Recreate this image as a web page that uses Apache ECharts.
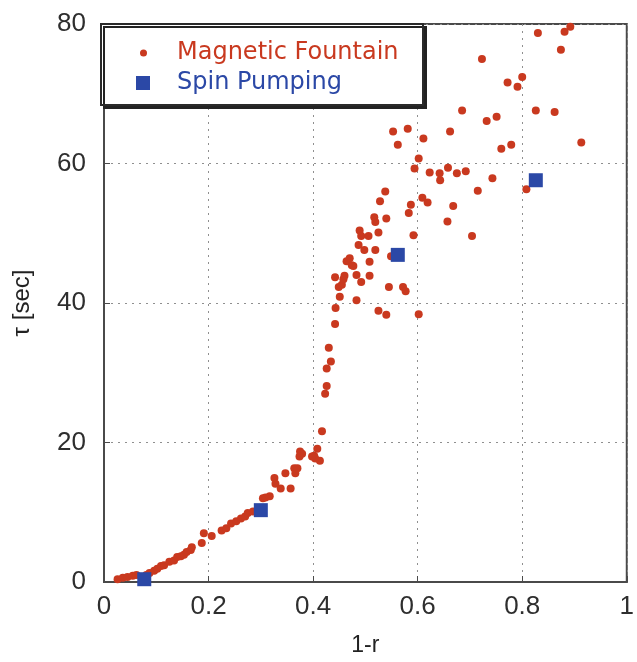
<!DOCTYPE html>
<html>
<head>
<meta charset="utf-8">
<script src="https://cdn.jsdelivr.net/npm/echarts@6/dist/echarts.min.js"></script>
<style>
  html, body { margin: 0; padding: 0; background: #ffffff; }
  #main { width: 637px; height: 662px; }
</style>
</head>
<body>
<div id="main"></div>
<script>
// 磁気噴水 (Magnetic Fountain) の測定点
var fountainX = [
  0.026, 0.036, 0.045, 0.055, 0.062, 0.081, 0.087, 0.096, 0.102, 0.109,
  0.115, 0.125, 0.134, 0.140, 0.147, 0.153, 0.158, 0.166, 0.168, 0.187,
  0.191, 0.206, 0.225, 0.234, 0.243, 0.253, 0.262, 0.270, 0.275, 0.285,
  0.304, 0.309, 0.317, 0.326, 0.328, 0.338, 0.357, 0.347, 0.364, 0.366,
  0.370, 0.375, 0.379, 0.374, 0.402, 0.408, 0.413, 0.404, 0.398, 0.417,
  0.423, 0.426, 0.426, 0.434, 0.430, 0.442, 0.443, 0.451, 0.449, 0.455,
  0.458, 0.460, 0.442, 0.483, 0.492, 0.508, 0.483, 0.464, 0.470, 0.474,
  0.477, 0.508, 0.487, 0.498, 0.519, 0.489, 0.525, 0.492, 0.506, 0.592,
  0.517, 0.519, 0.540, 0.538, 0.528, 0.587, 0.583, 0.609, 0.549, 0.545,
  0.572, 0.577, 0.525, 0.540, 0.602,
  0.830, 0.881, 0.892, 0.874, 0.723, 0.772, 0.791, 0.800, 0.685, 0.826,
  0.862, 0.732, 0.751, 0.662, 0.913, 0.553, 0.581, 0.562, 0.611, 0.760,
  0.779, 0.602, 0.594, 0.623, 0.642, 0.643, 0.658, 0.675, 0.692, 0.743,
  0.715, 0.808, 0.619, 0.668, 0.657, 0.704
];
var fountainY = [
  0.4, 0.6, 0.7, 0.9, 1.0, 1.0, 1.3, 1.6, 1.9, 2.3,
  2.4, 2.9, 3.1, 3.6, 3.7, 3.9, 4.3, 4.6, 5.0, 5.6,
  7.0, 6.6, 7.4, 7.7, 8.4, 8.7, 9.1, 9.4, 9.9, 10.1,
  12.0, 12.1, 12.3, 14.9, 14.1, 13.4, 13.4, 15.6, 16.3, 15.6,
  16.3, 18.7, 18.4, 18.0, 18.1, 19.1, 17.4, 17.7, 18.0, 21.6,
  27.0, 28.1, 30.6, 31.6, 33.6, 37.0, 39.3, 40.9, 42.3, 42.6,
  43.4, 43.9, 43.7, 44.0, 43.0, 43.9, 40.4, 46.0, 46.4, 45.4,
  45.3, 45.9, 48.3, 47.6, 47.6, 50.4, 50.1, 49.6, 49.6, 49.7,
  52.3, 51.6, 52.1, 56.0, 54.6, 54.1, 52.9, 55.1, 46.7, 42.3,
  42.3, 41.7, 38.9, 38.3, 38.4,
  78.7, 78.9, 79.6, 76.3, 75.0, 71.6, 71.0, 72.4, 67.6, 67.6,
  67.4, 66.1, 66.7, 64.6, 63.0, 64.6, 65.0, 62.7, 63.6, 62.1,
  62.7, 60.7, 59.3, 58.7, 58.6, 57.6, 59.4, 58.6, 58.9, 57.9,
  56.1, 56.3, 54.4, 53.9, 51.7, 49.6
];

// スピンポンピング (Spin Pumping)
var pumpX = [0.077, 0.300, 0.562, 0.826];
var pumpY = [0.4, 10.3, 46.9, 57.6];

var xTicks = [0, 0.2, 0.4, 0.6, 0.8, 1];
var yTicks = [0, 20, 40, 60, 80];

var seriesNames = ['Magnetic Fountain', 'Spin Pumping'];

function zip(xs, ys) {
  var out = [];
  for (var i = 0; i < xs.length; i++) out.push([xs[i], ys[i]]);
  return out;
}

var red = '#c9391f';
var blue = '#2b48a6';
var tickFont = { fontFamily: 'Liberation Sans, Arial', fontSize: 26, color: '#2e2e2e' };

var chart = echarts.init(document.getElementById('main'), null, { renderer: 'canvas' });

var option = {
  backgroundColor: '#ffffff',
  animation: false,
  grid: {
    left: 104, top: 24, right: 3, bottom: 78,
    show: true, borderColor: '#4a4a4a', borderWidth: 2, backgroundColor: 'transparent'
  },
  xAxis: {
    type: 'value',
    min: xTicks[0], max: xTicks[xTicks.length - 1], interval: 0.2,
    name: '1-r', nameLocation: 'middle', nameGap: 52,
    nameTextStyle: { fontFamily: 'Liberation Sans, Arial', fontSize: 23, color: '#222' },
    axisLine: { lineStyle: { color: '#4a4a4a', width: 2 } },
    axisTick: { inside: true, length: 6, lineStyle: { color: '#4a4a4a' } },
    axisLabel: Object.assign({ margin: 12, formatter: function (v) { return String(v); } }, tickFont),
    splitLine: { lineStyle: { type: [2, 5], color: '#8f8f8f', width: 1 } }
  },
  yAxis: {
    type: 'value',
    min: yTicks[0], max: yTicks[yTicks.length - 1], interval: 20,
    name: 'τ [sec]', nameLocation: 'middle', nameGap: 70, nameRotate: 90,
    nameTextStyle: { fontFamily: 'Liberation Sans, Arial', fontSize: 24, color: '#222' },
    axisLine: { lineStyle: { color: '#4a4a4a', width: 2 } },
    axisTick: { inside: true, length: 6, lineStyle: { color: '#4a4a4a' } },
    axisLabel: Object.assign({ margin: 18 }, tickFont),
    splitLine: { lineStyle: { type: [2, 5], color: '#8f8f8f', width: 1 } }
  },
  // 凡例の枠
  graphic: [{
    type: 'rect', z: 3,
    shape: { x: 101, y: 24, width: 322, height: 81 },
    style: {
      fill: '#ffffff', stroke: '#2a2a2a', lineWidth: 2,
      shadowColor: '#222', shadowOffsetX: 3, shadowOffsetY: 3, shadowBlur: 0
    }
  }],
  legend: [{
    data: [seriesNames[0]], z: 4,
    left: 140, top: 41, padding: 0,
    icon: 'circle', itemWidth: 7, itemHeight: 7, itemGap: 0,
    textStyle: { fontFamily: 'DejaVu Sans', fontSize: 24, color: red, padding: [0, 0, 0, 25] }
  }, {
    data: [seriesNames[1]], z: 4,
    left: 136, top: 71, padding: 0,
    icon: 'rect', itemWidth: 14, itemHeight: 14, itemGap: 0,
    textStyle: { fontFamily: 'DejaVu Sans', fontSize: 24, color: blue, padding: [0, 0, 0, 22] }
  }],
  series: [{
    name: seriesNames[0],
    type: 'scatter',
    symbol: 'circle',
    symbolSize: 8,
    itemStyle: { color: red, opacity: 1 },
    data: zip(fountainX, fountainY)
  }, {
    name: seriesNames[1],
    type: 'scatter',
    symbol: 'rect',
    symbolSize: 14,
    itemStyle: { color: blue, opacity: 1 },
    data: zip(pumpX, pumpY)
  }]
};

chart.setOption(option);
</script>
</body>
</html>
